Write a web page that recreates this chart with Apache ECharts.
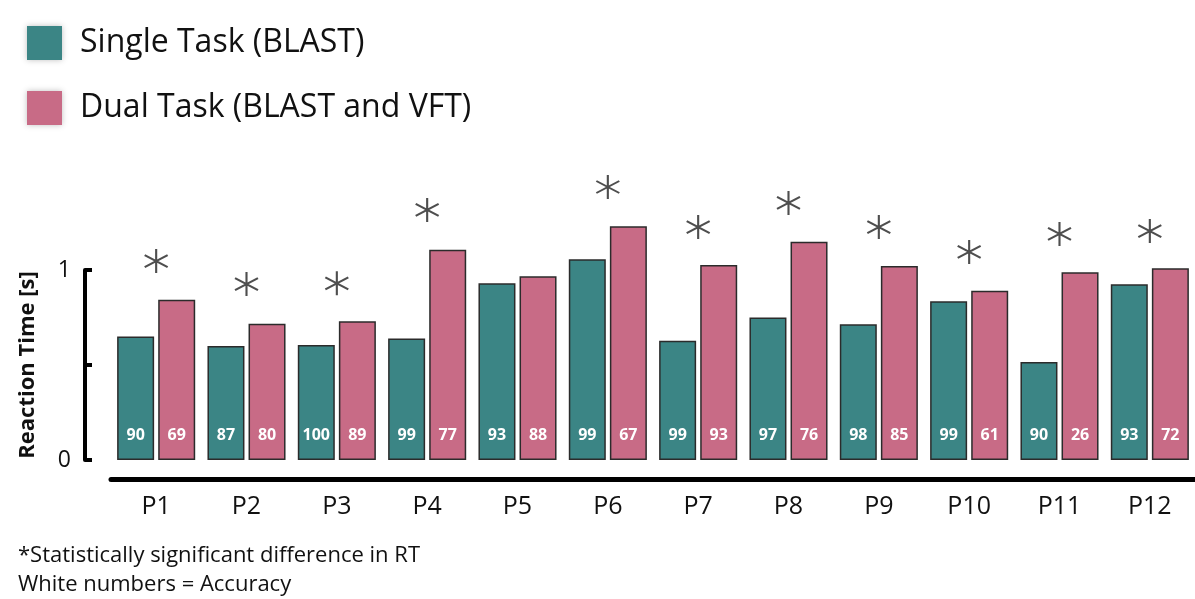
<!DOCTYPE html>
<html>
<head>
<meta charset="utf-8">
<style>
  html, body { margin: 0; padding: 0; background: #fff; }
  #chart { width: 1195px; height: 599px; }
</style>
<script src="https://cdn.jsdelivr.net/npm/echarts@6/dist/echarts.min.js"></script>
</head>
<body>
<div id="chart"></div>
<script>
// participants
var categories = ['P1', 'P2', 'P3', 'P4', 'P5', 'P6', 'P7', 'P8', 'P9', 'P10', 'P11', 'P12'];
// reaction time [s]
var singleRT = [0.65, 0.60, 0.605, 0.64, 0.93, 1.056, 0.628, 0.75, 0.714, 0.835, 0.516, 0.925];
var dualRT = [0.844, 0.717, 0.73, 1.107, 0.967, 1.23, 1.026, 1.149, 1.021, 0.891, 0.988, 1.009];
// accuracy (white numbers)
var singleAcc = [90, 87, 100, 99, 93, 99, 99, 97, 98, 99, 90, 93];
var dualAcc = [69, 80, 89, 77, 88, 67, 93, 76, 85, 61, 26, 72];
// height of the significance asterisks (null = not significant)
var sigMarks = [1.047, 0.926, 0.93, 1.316, null, 1.437, 1.226, 1.353, 1.226, 1.095, 1.19, 1.205];

var teal = '#3b8585';
var pink = '#c86b86';
var font = 'Open Sans';

// 6-armed asterisk made of three thin bars
var starPath = 'path://M46 0L54 0L54 100L46 100Z' +
  'M91.3 21.5L95.3 28.5L8.7 78.5L4.7 71.5Z' +
  'M4.7 28.5L8.7 21.5L95.3 71.5L91.3 78.5Z';

var myChart = echarts.init(document.getElementById('chart'));

var option = {
  backgroundColor: '#fff',
  textStyle: { fontFamily: font },
  animation: false,
  title: {
    left: 13,
    top: 536,
    text: '*Statistically significant difference in RT\nWhite numbers = Accuracy',
    textStyle: { fontFamily: font, fontSize: 22, fontWeight: 'normal', color: '#111', lineHeight: 29 }
  },
  legend: {
    orient: 'vertical',
    left: 22,
    top: 21,
    icon: 'rect',
    itemWidth: 35,
    itemHeight: 34,
    itemGap: 31,
    data: ['Single Task (BLAST)', 'Dual Task (BLAST and VFT)'],
    itemStyle: { borderWidth: 0, shadowBlur: 6, shadowColor: 'rgba(0,0,0,0.25)' },
    textStyle: { fontFamily: font, fontSize: 32, color: '#111', padding: [0, 0, 0, 13] }
  },
  grid: [
    { left: 111, width: 1090, top: 175, bottom: 139 },
    { left: 85, width: 20, top: 270, height: 190 }
  ],
  xAxis: [
    {
      type: 'category',
      gridIndex: 0,
      data: categories,
      offset: 19,
      axisLine: { onZero: false, lineStyle: { color: '#000', width: 5 } },
      axisTick: { show: false },
      axisLabel: { fontFamily: font, fontSize: 25, color: '#111', margin: 15 }
    },
    { type: 'value', gridIndex: 1, show: false }
  ],
  yAxis: [
    { type: 'value', gridIndex: 0, min: 0, max: 1.5, show: false },
    {
      type: 'value',
      gridIndex: 1,
      min: 0,
      max: 1,
      interval: 0.5,
      axisLine: { show: true, lineStyle: { color: '#000', width: 4 } },
      axisTick: { show: true, inside: true, length: 7, lineStyle: { color: '#000', width: 4 } },
      axisLabel: {
        fontFamily: font, fontSize: 23, color: '#111', margin: 14,
        formatter: function (v) { return v === 0.5 ? '' : String(v); }
      },
      splitLine: { show: false },
      name: 'Reaction Time [s]',
      nameLocation: 'middle',
      nameGap: 46,
      nameTextStyle: { fontFamily: font, fontSize: 22, fontWeight: 'bold', color: '#111' }
    }
  ],
  series: [
    {
      name: 'Single Task (BLAST)',
      type: 'bar',
      xAxisIndex: 0,
      yAxisIndex: 0,
      data: singleRT,
      barWidth: 37,
      barGap: '11%',
      itemStyle: { color: teal, borderColor: '#2b2b2b', borderWidth: 1.5 },
      label: {
        show: true,
        position: 'insideBottom',
        distance: 17,
        color: '#fff',
        fontFamily: font,
        fontWeight: 'bold',
        fontSize: 16,
        formatter: function (p) { return singleAcc[p.dataIndex]; }
      }
    },
    {
      name: 'Dual Task (BLAST and VFT)',
      type: 'bar',
      xAxisIndex: 0,
      yAxisIndex: 0,
      data: dualRT,
      barWidth: 37,
      itemStyle: { color: pink, borderColor: '#2b2b2b', borderWidth: 1.5 },
      label: {
        show: true,
        position: 'insideBottom',
        distance: 17,
        color: '#fff',
        fontFamily: font,
        fontWeight: 'bold',
        fontSize: 16,
        formatter: function (p) { return dualAcc[p.dataIndex]; }
      }
    },
    {
      name: 'significant',
      type: 'scatter',
      xAxisIndex: 0,
      yAxisIndex: 0,
      data: sigMarks,
      symbol: starPath,
      symbolSize: 24,
      itemStyle: { color: '#222' },
      z: 5
    }
  ]
};

myChart.setOption(option);
</script>
</body>
</html>
